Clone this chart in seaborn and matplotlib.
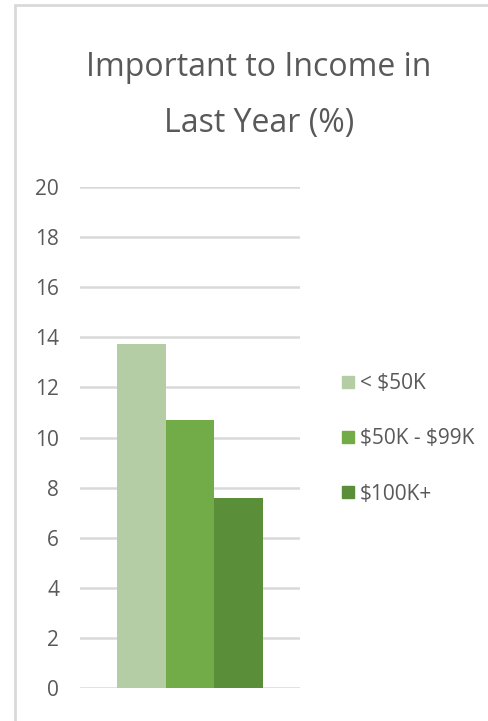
import matplotlib
matplotlib.use("Agg")
import matplotlib.pyplot as plt
import seaborn as sns
import pandas as pd
from matplotlib.lines import Line2D

# data
groups = ["< $50K", "$50K - $99K", "$100K+"]
values = [13.75, 10.7, 7.58]
category = ["Important to Income in Last Year"] * 3
colors = ["#B5CDA5", "#71AC48", "#5B8E39"]
yticks = [0, 2, 4, 6, 8, 10, 12, 14, 16, 18, 20]

df = pd.DataFrame({"cat": category, "group": groups, "value": values})

sns.set_theme(style="white")
plt.rcParams["font.family"] = ["Open Sans", "DejaVu Sans"]
plt.rcParams["text.parse_math"] = False

fig = plt.figure(figsize=(4.88, 7.21), dpi=100)
fig.patch.set_facecolor("white")
ax = fig.add_axes([80 / 488, 1 - 688 / 721, 220 / 488, 501 / 721])

sns.barplot(data=df, x="cat", y="value", hue="group", hue_order=groups,
            palette=colors, width=0.66, saturation=1, linewidth=0,
            ax=ax, legend=False)

ax.set_ylim(0, 20)
ax.set_yticks(yticks)
ax.set_yticklabels([str(t) for t in yticks], color="#595959", fontsize=15)
ax.set_xticks([])
ax.set_xlabel("")
ax.set_ylabel("")
ax.yaxis.grid(True, color="#D9D9D9", linewidth=1.8)
ax.set_axisbelow(True)
for s in ax.spines.values():
    s.set_visible(False)
ax.tick_params(axis="y", length=0, pad=15)

# legend
handles = [Line2D([0], [0], marker="s", linestyle="", markersize=8.6,
                  markerfacecolor=c, markeredgecolor=c) for c in colors]
fig.legend(handles, groups, loc="upper left",
           bbox_to_anchor=(342 / 488, 1 - 373 / 721), frameon=False,
           fontsize=15, labelcolor="#595959", handletextpad=0.25,
           labelspacing=1.65, handlelength=0.6, borderpad=0,
           borderaxespad=0)

# title
fig.text(259 / 488, 1 - 76 / 721, "Important to Income in", ha="center",
         va="baseline", fontsize=23, color="#595959")
fig.text(259 / 488, 1 - 132 / 721, "Last Year (%)", ha="center",
         va="baseline", fontsize=23, color="#595959")

# chart border (left and top only visible)
fig.add_artist(Line2D([15 / 488, 15 / 488], [0, 1 - 5 / 721],
                      transform=fig.transFigure, color="#D9D9D9", linewidth=2))
fig.add_artist(Line2D([15 / 488, 1], [1 - 5 / 721, 1 - 5 / 721],
                      transform=fig.transFigure, color="#D9D9D9", linewidth=2))

fig.savefig("out.png", dpi=100, facecolor="white")
